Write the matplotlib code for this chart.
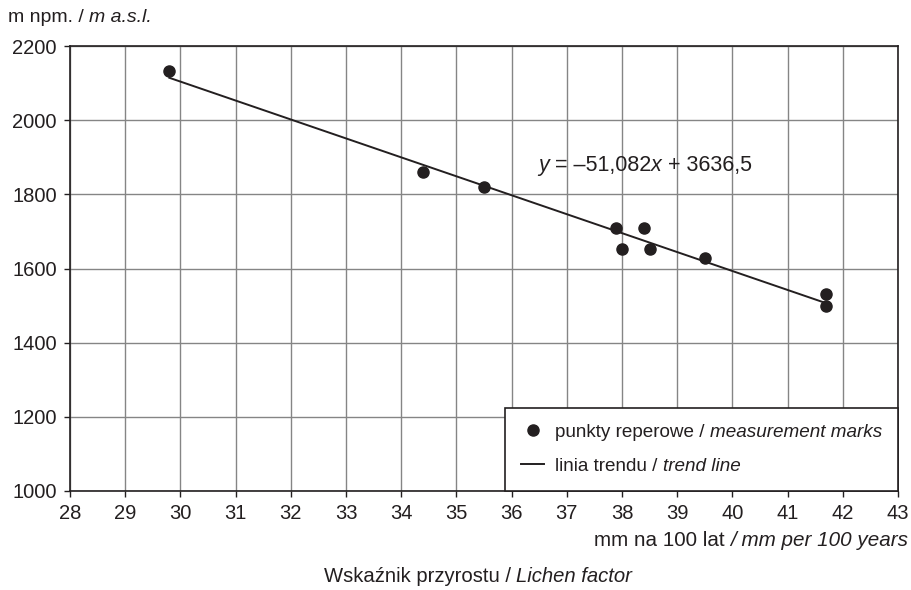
import matplotlib
matplotlib.use("Agg")
import matplotlib.pyplot as plt
import numpy as np
from matplotlib.offsetbox import (AnchoredOffsetbox, AnnotationBbox, HPacker,
                                  VPacker, TextArea, DrawingArea)
from matplotlib.lines import Line2D

plt.rcParams['font.family'] = ['Liberation Sans', 'DejaVu Sans']

lichen_factor = [29.8, 34.4, 35.5, 37.9, 38.0, 38.4, 38.5, 39.5, 41.7, 41.7]
altitude = [2133, 1860, 1820, 1708, 1652, 1710, 1652, 1628, 1530, 1500]
slope = -51.082
intercept = 3636.5
x_ticks = list(range(28, 44))
y_ticks = list(range(1000, 2201, 200))

INK = '#231f20'
SP = 0.278  # width of a space in em (Arial metrics)

fig = plt.figure(figsize=(9.12, 5.9), dpi=100)
ax = fig.add_axes([70/912, 1-491/590, 828/912, 445/590])


def rich_box(segments, fs):
    """segments: list of (text, style, space_before)."""
    kids = []
    for i, (s, st, g) in enumerate(segments):
        if i > 0 and g:
            kids.append(DrawingArea(SP * fs, 1, 0, 0))
        kids.append(TextArea(s, textprops=dict(fontsize=fs, style=st, color=INK)))
    return HPacker(children=kids, align='baseline', pad=0, sep=0)


def place(segments, fs, xy, coords, align):
    box = rich_box(segments, fs)
    ab = AnnotationBbox(box, xy, xycoords=coords, box_alignment=align,
                        frameon=False, pad=0, annotation_clip=False)
    ax.add_artist(ab)
    return ab


ax.set_xlim(28, 43)
ax.set_ylim(1000, 2200)
ax.set_xticks(x_ticks)
ax.set_yticks(y_ticks)
ax.grid(True, color='#858585', linewidth=1.0)
ax.set_axisbelow(True)
ax.tick_params(direction='out', length=4.5, width=1, labelsize=14.5, colors=INK)
ax.tick_params(axis='x', pad=5)
ax.tick_params(axis='y', pad=5)
for s in ax.spines.values():
    s.set_color(INK)
    s.set_linewidth(1.2)

xl = np.array([min(lichen_factor), max(lichen_factor)])
ax.plot(xl, slope*xl + intercept, color=INK, linewidth=1.4, zorder=3)
ax.plot(lichen_factor, altitude, 'o', color=INK, markersize=8,
        linestyle='none', zorder=4)

# ---- legend built from offset boxes (mixed upright / italic labels)
leg_fs = 13.6
hw, hh = 16.5, 12.0
yc = hh/2 + 1.6
da_pt = DrawingArea(hw, hh, 0, 0)
da_pt.add_artist(Line2D([hw/2], [yc], marker='o', markersize=8, color=INK, linestyle='none'))
da_ln = DrawingArea(hw, hh, 0, 0)
da_ln.add_artist(Line2D([0, hw], [yc, yc], color=INK, linewidth=1.4))
row1 = HPacker(children=[da_pt, rich_box([('punkty reperowe /', 'normal', 0),
                                          ('measurement marks', 'italic', 1)], leg_fs)],
               align='center', pad=0, sep=8)
row2 = HPacker(children=[da_ln, rich_box([('linia trendu /', 'normal', 0),
                                          ('trend line', 'italic', 1)], leg_fs)],
               align='center', pad=0, sep=8)
rows = VPacker(children=[row1, row2], align='left', pad=0, sep=12.6)
leg = AnchoredOffsetbox(loc='lower right', child=rows, pad=0.84, borderpad=0,
                        frameon=True, bbox_to_anchor=(1, 0), bbox_transform=ax.transAxes,
                        prop=dict(size=leg_fs))
leg.patch.set_edgecolor(INK)
leg.patch.set_facecolor('white')
leg.patch.set_linewidth(1.2)
leg.set_zorder(6)
ax.add_artist(leg)

# ---- trend equation
place([('y', 'italic', 0), ('= –51,082', 'normal', 1), ('x', 'italic', 0),
       ('+ 3636,5', 'normal', 1)], 15.5, (36.48, 1878), 'data', (0, 0.5))

# ---- axis titles
place([('m npm. /', 'normal', 0), ('m a.s.l.', 'italic', 1)], 14,
      (8/912, 1-18/590), 'figure fraction', (0, 0.5))
place([('mm na 100 lat', 'normal', 0), ('/ mm per 100 years', 'italic', 1)], 14.9,
      (908/912, 1-540/590), 'figure fraction', (1, 0.5))
place([('Wskaźnik przyrostu /', 'normal', 0), ('Lichen factor', 'italic', 1)], 14.6,
      (478/912, 1-577/590), 'figure fraction', (0.5, 0.5))

fig.savefig('out.png', dpi=100)
